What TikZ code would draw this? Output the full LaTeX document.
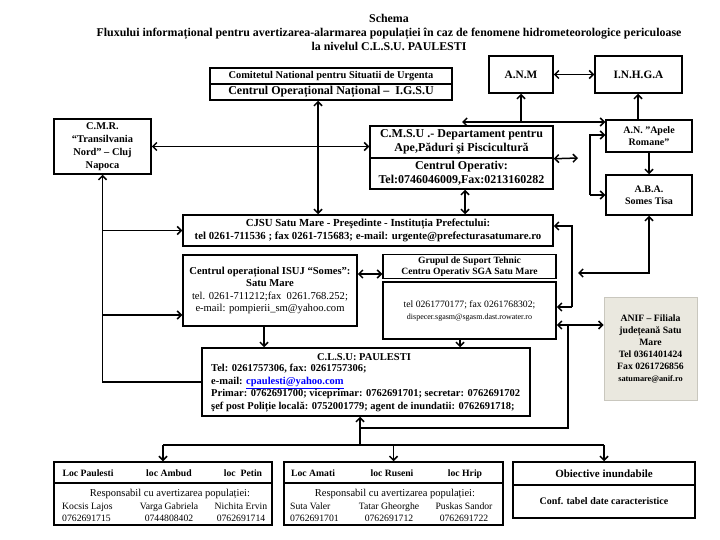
\documentclass[tikz,border=0pt]{standalone}
\usepackage{fontspec}
\setmainfont{Liberation Serif}
\usetikzlibrary{arrows.meta}
\definecolor{anifbg}{HTML}{EAE8DF}
\definecolor{anifbd}{HTML}{C9C7BE}
\begin{document}
\begin{tikzpicture}[x=1pt,y=-1pt,
  box/.style={draw, line width=1.5pt, inner sep=0pt, align=center, font=\bfseries\fontsize{9.5}{11}\selectfont},
  txt/.style={inner sep=0pt, align=center},
  ar/.style={line width=1.5pt, -{Straight Barb[length=4pt,width=8pt]}},
  ra/.style={line width=1.5pt, {Straight Barb[length=4pt,width=8pt]}-},
  dbl/.style={line width=1.5pt, {Straight Barb[length=4pt,width=8pt]}-{Straight Barb[length=4pt,width=8pt]}},
  ln/.style={line width=1.5pt}]
\useasboundingbox (0,0) rectangle (720,540);

% title
\node[txt, font=\bfseries\fontsize{11.9}{14}\selectfont] (title) at (389,32)
  {Schema\\Fluxului informațional pentru avertizarea-alarmarea populației în caz de fenomene hidrometeorologice periculoase\\la nivelul C.L.S.U. PAULESTI};

% top boxes
\node[box, minimum width=242, minimum height=16, font=\bfseries\fontsize{10.4}{12}\selectfont] (com1) at (331,76) {Comitetul National pentru Situatii de Urgenta};
\node[box, minimum width=242, minimum height=16, font=\bfseries\fontsize{12}{13}\selectfont] (com2) at (331,92) {Centrul Operațional Național –\ \ I.G.S.U};
\node[box, minimum width=64, minimum height=37, font=\bfseries\fontsize{11.3}{13}\selectfont] (anm) at (521,74.5) {A.N.M};
\node[box, minimum width=87, minimum height=37, font=\bfseries\fontsize{11.3}{13}\selectfont] (inhga) at (638.5,74.5) {I.N.H.G.A};
\node[box, minimum width=97, minimum height=55, font=\bfseries\fontsize{10.4}{13.2}\selectfont] (cmr) at (102.5,146.5) {C.M.R.\\“Transilvania\\Nord” – Cluj\\Napoca};
\node[box, minimum width=183, minimum height=32, font=\bfseries\fontsize{12}{14}\selectfont] (cmsu1) at (461.5,142) {C.M.S.U .- Departament pentru\\Ape,Păduri şi Piscicultură};
\node[box, minimum width=183, minimum height=31, font=\bfseries\fontsize{12}{14}\selectfont] (cmsu2) at (461.5,173.5) {Centrul Operativ:\\Tel:0746046009,Fax:0213160282};
\node[box, minimum width=86, minimum height=32, font=\bfseries\fontsize{10}{12.5}\selectfont] (apele) at (649,136) {A.N. "Apele\\Romane"};
\node[box, minimum width=86, minimum height=40, font=\bfseries\fontsize{10}{12.5}\selectfont] (aba) at (649,195) {A.B.A.\\Somes Tisa};

% middle
\node[box, minimum width=370, minimum height=31, font=\bfseries\fontsize{10.8}{12.5}\selectfont] (cjsu) at (368,230.5) {CJSU Satu Mare - Preşedinte - Instituția Prefectului:\\tel 0261-711536 ; fax 0261-715683; e-mail: urgente@prefecturasatumare.ro};
\node[box, minimum width=174, minimum height=71, font=\fontsize{10.6}{12.6}\selectfont] (isuj) at (270,290.5) {\textbf{Centrul operațional ISUJ “Somes”:}\\\textbf{Satu Mare}\\tel. 0261-711212;fax\ \ 0261.768.252;\\e-mail: pompierii\_sm@yahoo.com};
\node[box, minimum width=173, minimum height=24, font=\bfseries\fontsize{9.6}{10.8}\selectfont] (grup) at (469.5,266.5) {Grupul de Suport Tehnic\\Centru Operativ SGA Satu Mare};
\node[box, minimum width=173, minimum height=57, font=\fontsize{9.7}{12}\selectfont] (tel) at (469.5,310.5) {tel 0261770177; fax 0261768302;\\{\fontsize{8}{10}\selectfont dispecer.sgasm@sgasm.dast.rowater.ro}};
\node[draw=anifbd, fill=anifbg, line width=0.8pt, minimum width=93, minimum height=103, inner sep=0pt, align=center, font=\bfseries\fontsize{9.7}{12}\selectfont] (anif) at (650.5,348.5) {ANIF – Filiala\\județeană Satu\\Mare\\Tel 0361401424\\Fax 0261726856\\{\fontsize{8.3}{10}\selectfont satumare@anif.ro}};

% CLSU
\node[box, minimum width=328, minimum height=68] (clsu) at (366,382) {};
\node[txt, font=\bfseries\fontsize{10.5}{11}\selectfont] (clsut) at (364,357) {C.L.S.U: PAULESTI};
\node[txt, anchor=north west, align=left, font=\bfseries\fontsize{10.5}{12.6}\selectfont] (clsub) at (211,364)
 {Tel: 0261757306, fax: 0261757306;\\e-mail: \textcolor{blue}{\underline{cpaulesti@yahoo.com}}\\Primar: 0762691700; viceprimar: 0762691701; secretar: 0762691702\\şef post Poliție locală: 0752001779; agent de inundatii: 0762691718;};

% bottom boxes
\node[box, minimum width=218, minimum height=21] (b1h) at (163,472.5) {};
\node[box, minimum width=218, minimum height=42] (b1b) at (163,504) {};
\node[box, minimum width=219, minimum height=21] (b2h) at (393.5,472.5) {};
\node[box, minimum width=219, minimum height=42] (b2b) at (393.5,504) {};
\node[box, minimum width=182, minimum height=23, font=\bfseries\fontsize{11}{12}\selectfont] (b3h) at (604,473.5) {Obiective inundabile};
\node[box, minimum width=182, minimum height=33, font=\bfseries\fontsize{10}{12}\selectfont] (b3b) at (604,501.5) {Conf. tabel date caracteristice};

\begin{scope}[every node/.style={txt, anchor=base, font=\bfseries\fontsize{9.7}{11}\selectfont}]
\node (h11) at (88,476) {Loc Paulesti};
\node (h12) at (169,476) {loc Ambud};
\node (h13) at (243,476) {loc\ \ Petin};
\node (h21) at (313,476) {Loc Amati};
\node (h22) at (392,476) {loc Ruseni};
\node (h23) at (465,476) {loc Hrip};
\end{scope}
\begin{scope}[every node/.style={txt, anchor=base, font=\fontsize{9.7}{11}\selectfont}]
\node[font=\fontsize{10.5}{11}\selectfont] (r1) at (170,496.5) {Responsabil cu avertizarea populației:};
\node[anchor=base west] (n11) at (62,509) {Kocsis Lajos};
\node (n12) at (169,509) {Varga Gabriela};
\node (n13) at (241,509) {Nichita Ervin};
\node[anchor=base west] (t11) at (62,521.5) {0762691715};
\node (t12) at (169,521.5) {0744808402};
\node (t13) at (241,521.5) {0762691714};
\node[font=\fontsize{10.5}{11}\selectfont] (r2) at (395,496.5) {Responsabil cu avertizarea populației:};
\node[anchor=base west] (n21) at (290,509) {Suta Valer};
\node (n22) at (389,509) {Tatar Gheorghe};
\node (n23) at (464,509) {Puskas Sandor};
\node[anchor=base west] (t21) at (290,521.5) {0762691701};
\node (t22) at (389,521.5) {0762691712};
\node (t23) at (464,521.5) {0762691722};
\end{scope}

% connectors
\draw[dbl] (anm.east) -- (inhga.west);
\draw[dbl] ([xshift=-13pt]com2.south) -- ([xshift=-13pt]com2.south |- cjsu.north);
\draw[dbl] (cmr.east) -- (cmr.east -| cmsu1.west);
\draw[dbl] ([xshift=3.5pt]cmsu2.south) -- ([xshift=3.5pt]cmsu2.south |- cjsu.north);
\coordinate (t1) at (462,122);
\draw[dbl] (t1) -- (t1 -| apele.west);
\draw[ar] (t1 -| anm.south) -- (anm.south);
\draw[ar] (apele.north -| 638,0) -- (inhga.south -| 638,0);
\draw[ar] (apele.south) -- (aba.north);
% bracket to Apele / ABA
\coordinate (m1) at (578,158);
\draw[dbl] (cmsu1.south east) -- (m1);
\coordinate (bk) at (590,135);
\draw[ar] (bk |- aba.west) -- (bk) -- (bk -| apele.west);
\draw[ar] (bk |- aba.west) -- (aba.west);
% bracket to CJSU / SGA
\coordinate (v1) at (572,226);
\draw[ar] (v1 |- 0,307) -- (v1) -- (v1 -| cjsu.east);
\draw[ar] (v1 |- 0,307) -- (tel.east |- 0,307);
\coordinate (a2) at (578,273);
\draw[dbl] (aba.south) -- (aba.south |- a2) -- (a2);
% left trunk
\draw[ra] (cmr.south) -- (cmr.south |- clsu.west) -- (clsu.west);
\draw[ar] (cmr.south |- cjsu.west) -- (cjsu.west);
\draw[ar] (cmr.south |- 0,315) -- (isuj.west |- 0,315);
\draw[dbl] (isuj.east |- 0,274) -- (grup.west |- 0,274);
\draw[ar] (isuj.south -| 264,0) -- (clsu.north -| 264,0);
\draw[ar] (tel.south -| 460,0) -- (clsu.north -| 460,0);
% CLSU bottom loop
\coordinate (c1) at (568,428);
\draw[dbl] (tel.east |- 0,325) -- (anif.west |- 0,325);
\draw[ra] (clsu.south -| 360,0) -- (c1 -| 360,0) -- (c1) -- (c1 |- 0,325);
\coordinate (c2) at (360,445);
\draw[ln] (c1 -| c2) -- (c2);
\draw[ln] (c2 -| b1h.north) -- (c2 -| b3h.north);
\draw[ar] (c2 -| b1h.north) -- (b1h.north);
\draw[ar] (c2 -| b2h.north) -- (b2h.north);
\draw[ar] (c2 -| b3h.north) -- (b3h.north);
\end{tikzpicture}
\end{document}
